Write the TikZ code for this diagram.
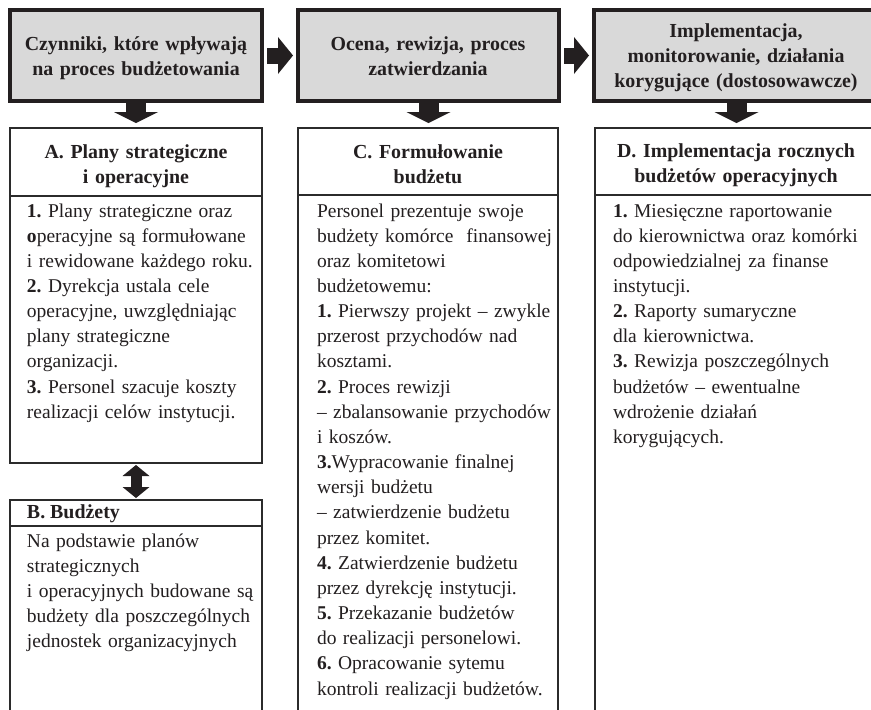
\documentclass[tikz,border=0pt]{standalone}
\usepackage{fontspec}
\setmainfont{Liberation Serif}
\usetikzlibrary{arrows.meta}
\definecolor{ink}{HTML}{231F20}
\definecolor{panel}{HTML}{D9D9D9}
\definecolor{rule}{HTML}{2B2B2B}
\frenchspacing

\begin{document}
\begin{tikzpicture}[x=1pt,y=-1pt,
  every node/.style={inner sep=0pt, outer sep=0pt},
  phasebox/.style={draw=ink, line width=3.4pt, fill=panel, anchor=north west},
  stagebox/.style={draw=rule, line width=1.4pt, fill=white, anchor=north west},
  divider/.style={draw=rule, line width=1.4pt},
  headtext/.style={font=\fontsize{19.9}{25.1}\selectfont\bfseries\frenchspacing, text=ink,
    text width=#1, align=center, anchor=base},
  bodytext/.style={font=\fontsize{19.5}{25.16}\selectfont\frenchspacing, text=ink,
    text width=255pt, align=left, anchor=base west},
  flow/.style={ink, line width=16pt,
    -{Triangle[width=37pt,length=15pt,line width=0pt]},
    shorten <=5pt, shorten >=5pt},
  down/.style={ink, line width=20pt,
    -{Triangle[width=44pt,length=11pt,line width=0pt]},
    shorten >=5pt},
  link/.style={ink, line width=11pt,
    {Triangle[width=27pt,length=11pt,line width=0pt]}-{Triangle[width=27pt,length=11pt,line width=0pt]},
    shorten <=2pt, shorten >=2pt}
]
\path[use as bounding box] (0,0) rectangle (871,710);
\clip (0,0) rectangle (871,710);

% phase boxes along the top
\node[phasebox, minimum width=252pt, minimum height=91pt] (t1) at (10,10) {};
\node[phasebox, minimum width=261pt, minimum height=91pt] (t2) at (298,10) {};
\node[phasebox, minimum width=285pt, minimum height=91pt] (t3) at (594,10) {};

% stage boxes below
\node[stagebox, minimum width=252pt, minimum height=335pt] (A) at (10,128) {};
\node[stagebox, minimum width=252pt, minimum height=230pt] (B) at (10,500) {};
\node[stagebox, minimum width=260pt, minimum height=600pt] (C) at (298,128) {};
\node[stagebox, minimum width=285pt, minimum height=600pt] (D) at (595,128) {};

\draw[divider] ([yshift=-68pt]A.north west) -- ([yshift=-68pt]A.north east);
\draw[divider] ([yshift=-26pt]B.north west) -- ([yshift=-26pt]B.north east);
\draw[divider] ([yshift=-67pt]C.north west) -- ([yshift=-67pt]C.north east);
\draw[divider] ([yshift=-67pt]D.north west) -- ([yshift=-67pt]D.north east);

% phase titles
\node[headtext=250pt] (t1txt) at (136,50.5) {Czynniki, które wpływają\\na proces budżetowania};
\node[headtext=255pt] (t2txt) at (428,50.5) {Ocena, rewizja, proces\\zatwierdzania};
\node[headtext=280pt] (t3txt) at (736,37.7) {Implementacja,\\monitorowanie, działania\\korygujące (dostosowawcze)};

% stage headings
\node[headtext=250pt] (Ahead) at (136,158) {A. Plany strategiczne\\i operacyjne};
\node[headtext=255pt] (Chead) at (428,158) {C. Formułowanie\\budżetu};
\node[headtext=280pt] (Dhead) at (736,157) {D. Implementacja rocznych\\budżetów operacyjnych};
\node[font=\fontsize{19.9}{25.1}\selectfont\bfseries, text=ink, anchor=base west] (Bhead) at (27,518) {B. Budżety};

% stage contents
\node[bodytext] (Abody) at (27,217) {%
\textbf{1.} Plany strategiczne oraz\\
\textbf{o}peracyjne są formułowane\\
i rewidowane każdego roku.\\
\textbf{2.} Dyrekcja ustala cele\\
operacyjne, uwzględniając\\
plany strategiczne\\
organizacji.\\
\textbf{3.} Personel szacuje koszty\\
realizacji celów instytucji.};

\node[bodytext] (Bbody) at (27,547) {%
Na podstawie planów\\
strategicznych\\
i operacyjnych budowane są\\
budżety dla poszczególnych\\
jednostek organizacyjnych};

\node[bodytext] (Cbody) at (317,217) {%
Personel prezentuje swoje\\
budżety komórce\ \ finansowej\\
oraz komitetowi\\
budżetowemu:\\
\textbf{1.} Pierwszy projekt – zwykle\\
przerost przychodów nad\\
kosztami.\\
\textbf{2.} Proces rewizji\\
– zbalansowanie przychodów\\
i koszów.\\
\textbf{3.}Wypracowanie finalnej\\
wersji budżetu\\
– zatwierdzenie budżetu\\
przez komitet.\\
\textbf{4.} Zatwierdzenie budżetu\\
przez dyrekcję instytucji.\\
\textbf{5.} Przekazanie budżetów\\
do realizacji personelowi.\\
\textbf{6.} Opracowanie sytemu\\
kontroli realizacji budżetów.};

\node[bodytext] (Dbody) at (613,217) {%
\textbf{1.} Miesięczne raportowanie\\
do kierownictwa oraz komórki\\
odpowiedzialnej za finanse\\
instytucji.\\
\textbf{2.} Raporty sumaryczne\\
dla kierownictwa.\\
\textbf{3.} Rewizja poszczególnych\\
budżetów – ewentualne\\
wdrożenie działań\\
korygujących.};

% block arrows
\draw[flow] (t1.east) -- (t2.west);
\draw[flow] (t2.east) -- (t3.west);
\draw[down] (t1.south) -- (t1.south |- A.north);
\draw[down] (t2.south) -- (t2.south |- C.north);
\draw[down] (t3.south) -- (t3.south |- D.north);
\draw[link] (A.south) -- (B.north);
\end{tikzpicture}
\end{document}
